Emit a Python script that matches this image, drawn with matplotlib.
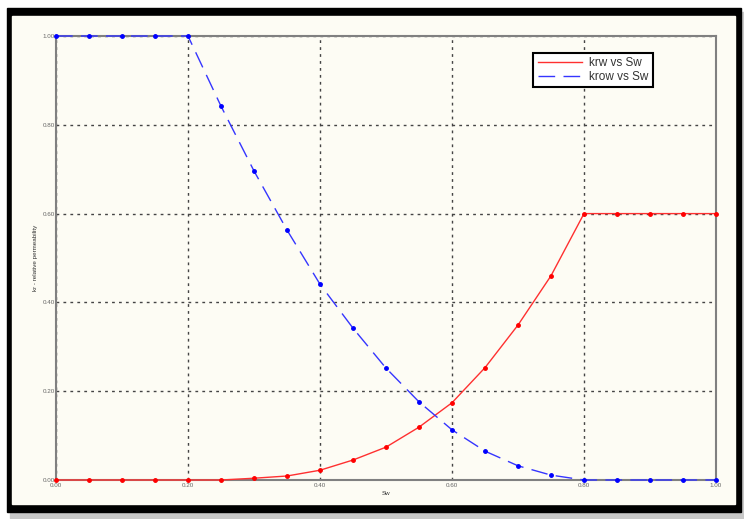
import numpy as np
import matplotlib.pyplot as plt
from matplotlib.patches import Rectangle

plt.rcParams["font.family"] = ["Liberation Sans", "DejaVu Sans"]

# water saturation and relative permeabilities
sw = [0.00, 0.05, 0.10, 0.15, 0.20, 0.25, 0.30, 0.35, 0.40, 0.45, 0.50,
      0.55, 0.60, 0.65, 0.70, 0.75, 0.80, 0.85, 0.90, 0.95, 1.00]
krw = [0.0, 0.0, 0.0, 0.0, 0.0, 0.0, 0.004, 0.009, 0.022, 0.045, 0.074,
       0.119, 0.174, 0.253, 0.349, 0.460, 0.600, 0.600, 0.600, 0.600, 0.600]
krow = [1.0, 1.0, 1.0, 1.0, 1.0, 0.842, 0.696, 0.563, 0.441, 0.342, 0.252,
        0.176, 0.113, 0.065, 0.032, 0.011, 0.0, 0.0, 0.0, 0.0, 0.0]
ticks = [0.0, 0.2, 0.4, 0.6, 0.8, 1.0]
tick_labels = ["0.00", "0.20", "0.40", "0.60", "0.80", "1.00"]

W, H = 744, 519
fig = plt.figure(figsize=(W / 100, H / 100), dpi=100)
fig.patch.set_facecolor("white")

# framed picture: shadow, black border, cream panel
fig.patches.append(Rectangle((10 / W, 1 - 518 / H), 734 / W, 506 / H,
                             transform=fig.transFigure, color="#c8c8c8", zorder=-3))
fig.patches.append(Rectangle((7 / W, 1 - 512 / H), 734 / W, 504 / H,
                             transform=fig.transFigure, color="black", zorder=-2))
fig.patches.append(Rectangle((12 / W, 1 - 504 / H), 723 / W, 488 / H,
                             transform=fig.transFigure, color="#fdfcf4", zorder=-1))

ax = fig.add_axes([56 / W, 1 - 480 / H, 660 / W, 444 / H])
ax.set_facecolor("#fdfcf4")

ax.plot(sw, krw, color="#ff3030", lw=1.0, marker="o", ms=2.5,
        mec="#ff0000", mfc="#ff0000", label="krw vs Sw", clip_on=False, zorder=3)
ax.plot(sw, krow, color="#3535ff", lw=1.0, marker="o", ms=2.5,
        mec="#0000ff", mfc="#0000ff", dashes=(12, 6), label="krow vs Sw",
        clip_on=False, zorder=3)

ax.set_xlim(0, 1)
ax.set_ylim(0, 1)
ax.set_xticks(ticks)
ax.set_yticks(ticks)
ax.set_xticklabels(tick_labels)
ax.set_yticklabels(tick_labels)
ax.tick_params(length=0, labelsize=4.5, labelcolor="#666666")
ax.tick_params(axis="y", pad=1)
ax.tick_params(axis="x", pad=2.5)
ax.grid(True, color="#444444", ls=(0, (2, 3)), lw=1.0)
for s in ax.spines.values():
    s.set_color("#808080")
    s.set_linewidth(1.5)

ax.set_xlabel("Sw", fontsize=4.5, color="#333333", labelpad=2)
ax.set_ylabel("kr - relative permeability", fontsize=4.5, color="#333333",
              labelpad=3)

leg = ax.legend(loc="upper right", bbox_to_anchor=(0.9045, 0.9617), fontsize=8.5,
                fancybox=False, framealpha=1, edgecolor="black",
                borderaxespad=0, handlelength=3.8, borderpad=0.35,
                labelspacing=0.15, handletextpad=0.6, markerscale=0)
leg.get_frame().set_linewidth(1.5)
for h in leg.get_lines():
    h.set_marker("")
for t in leg.get_texts():
    t.set_color("#333333")

fig.savefig("out.png", dpi=100)
